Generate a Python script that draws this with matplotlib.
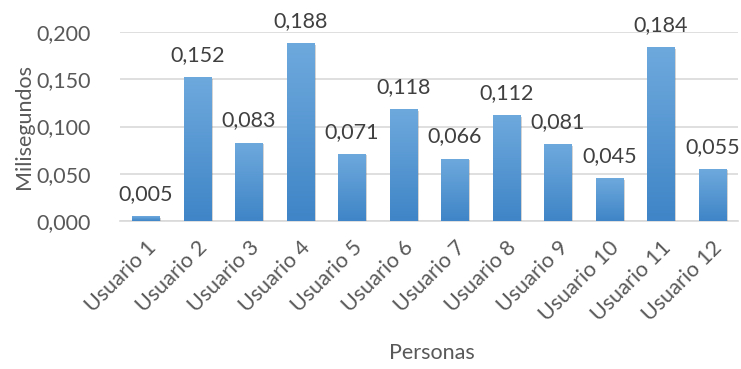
import matplotlib
matplotlib.use("Agg")
import matplotlib.pyplot as plt
import matplotlib.patheffects as pe
import numpy as np
from matplotlib.colors import LinearSegmentedColormap

plt.rcParams['font.family'] = ['Lato', 'DejaVu Sans']

usuarios = ["Usuario 1", "Usuario 2", "Usuario 3", "Usuario 4", "Usuario 5", "Usuario 6",
            "Usuario 7", "Usuario 8", "Usuario 9", "Usuario 10", "Usuario 11", "Usuario 12"]
tiempos = [0.005, 0.152, 0.083, 0.188, 0.071, 0.118, 0.066, 0.112, 0.081, 0.045, 0.184, 0.055]
yticks = [0.000, 0.050, 0.100, 0.150, 0.200]

gray = "#595959"
fs = 15.5
fig = plt.figure(figsize=(7.41, 3.69), dpi=100)
ax = fig.add_axes([120/741, 1-221/369, 618/741, 189/369])

x = np.arange(len(usuarios))
bars = ax.bar(x, tiempos, width=0.53, color="none", zorder=3,
              path_effects=[pe.SimplePatchShadow(offset=(1.5, -1), alpha=0.25, shadow_rgbFace="#555555"), pe.Normal()])

grad = LinearSegmentedColormap.from_list("barra", ["#3f85c7", "#6ea9dd"])
g = np.linspace(0, 1, 256).reshape(-1, 1)
for b in bars:
    x0, y0 = b.get_x(), b.get_y()
    w, h = b.get_width(), b.get_height()
    im = ax.imshow(g, cmap=grad, origin="lower", aspect="auto",
                   extent=[x0, x0 + w, y0, y0 + h], zorder=4)
    im.set_clip_path(b)
    ax.text(x0 + w / 2, h + 0.013, f"{h:.3f}".replace(".", ","), ha="center", va="bottom",
            fontsize=fs, color="#404040", zorder=5)

ax.set_xlim(-0.5, len(usuarios) - 0.5)
ax.set_ylim(0, 0.2)
ax.set_yticks(yticks)
ax.set_yticklabels([f"{v:.3f}".replace(".", ",") for v in yticks], fontsize=fs, color=gray)
ax.set_xticks(x)
ax.set_xticklabels(usuarios, rotation=45, ha="right", rotation_mode="anchor",
                   fontsize=fs, color=gray)
ax.tick_params(axis="both", length=0)
ax.tick_params(axis="y", pad=21)
ax.tick_params(axis="x", pad=12)
ax.grid(axis="y", color="#d9d9d9", linewidth=1.2, zorder=0)
for s in ["top", "right", "left"]:
    ax.spines[s].set_visible(False)
ax.spines["bottom"].set_color("#d9d9d9")
ax.spines["bottom"].set_linewidth(1.2)
fig.text(24/741, 1-126/369, "Milisegundos", rotation=90, ha="center", va="center",
         fontsize=fs, color=gray)
fig.text(432/741, 1-353/369, "Personas", ha="center", va="center", fontsize=fs, color=gray)

fig.savefig("out.png", dpi=100, facecolor="white")
